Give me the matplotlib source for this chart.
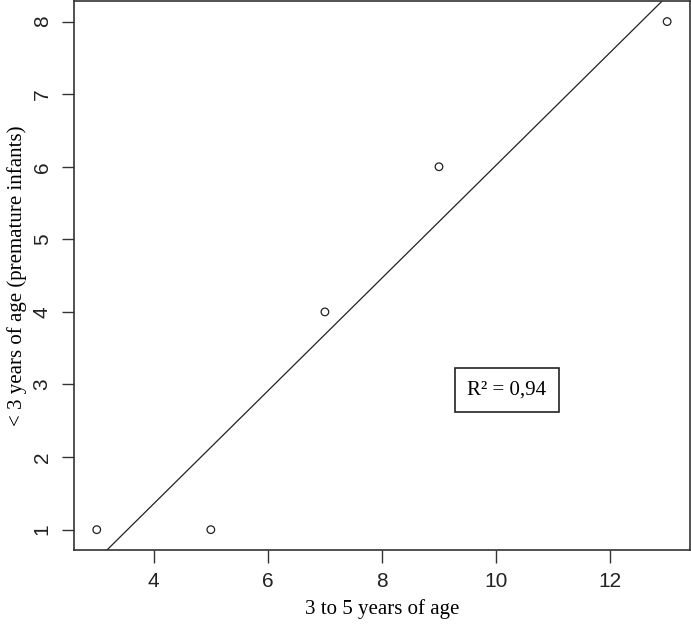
import numpy as np
import matplotlib
matplotlib.use("Agg")
import matplotlib.pyplot as plt

# data
age_3_to_5 = [3, 5, 7, 9, 13]
under_3 = [1, 1, 4, 6, 8]
x_ticks = [4, 6, 8, 10, 12]
y_ticks = [1, 2, 3, 4, 5, 6, 7, 8]
r2_label = "R² = 0,94"

x = np.array(age_3_to_5, dtype=float)
y = np.array(under_3, dtype=float)
slope, intercept = np.polyfit(x, y, 1)

fig = plt.figure(figsize=(6.91, 6.24), dpi=100)
ax = fig.add_axes([0.107, 0.1186, 0.8915, 0.8794])

ax.scatter(x, y, s=30, facecolors="none", edgecolors="#222222", linewidths=0.9, zorder=3)

ax.set_xlim(2.6, 13.4)
ax.set_ylim(0.72, 8.28)
xl = np.array(ax.get_xlim())
ax.plot(xl, intercept + slope * xl, color="#222222", linewidth=0.9)

ax.set_xticks(x_ticks)
ax.set_yticks(y_ticks)
ax.tick_params(axis="both", length=9, width=1, color="#333333", labelsize=15,
               labelcolor="#222222", pad=7)
for lab in ax.get_xticklabels() + ax.get_yticklabels():
    lab.set_family("Liberation Sans")
for lab in ax.get_yticklabels():
    lab.set_rotation(90)
    lab.set_va("center")
for sp in ax.spines.values():
    sp.set_color("#333333")
    sp.set_linewidth(1.2)

ax.set_xlabel("3 to 5 years of age", family="Liberation Serif", fontsize=15, labelpad=6)
ax.set_ylabel("< 3 years of age (premature infants)", family="Liberation Serif",
              fontsize=15, labelpad=4)

ax.text(10.19, 2.93, r2_label, family="Liberation Serif", fontsize=15,
        ha="center", va="center",
        bbox=dict(boxstyle="square,pad=0.6", facecolor="white", edgecolor="#222222", linewidth=1.2))

fig.savefig("out.png", dpi=100)
